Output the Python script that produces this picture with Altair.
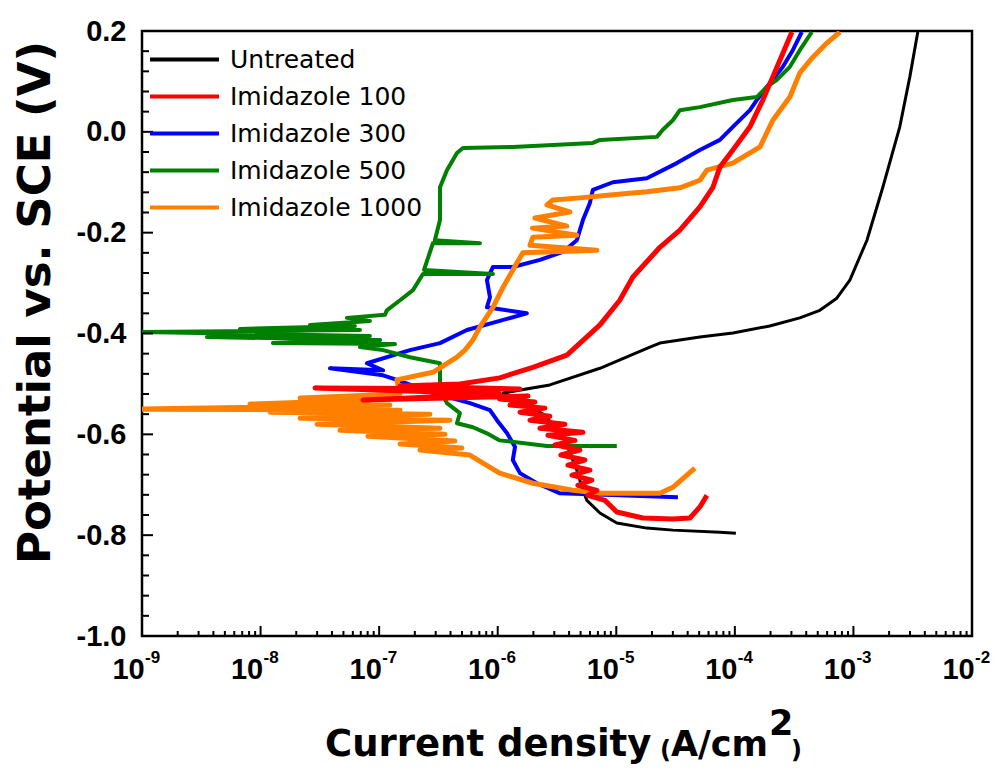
import altair as alt
import pandas as pd

SERIES = ["Untreated", "Imidazole 100", "Imidazole 300", "Imidazole 500", "Imidazole 1000"]
COLORS = ["#000000", "#ff0000", "#0000ff", "#008000", "#ff8000"]

# current density (A/cm2) and potential (V vs SCE), in sweep order
untreated_i = [1.02e-4, 7.48e-5, 3.0e-5, 1.81e-5, 1.01e-5, 7.28e-6, 5.65e-6, 5.23e-6, 4.65e-6, 3.69e-6,
               2.5e-6, 1.54e-6, 1.11e-6, 2.75e-6, 7.28e-6, 1.92e-5, 2.33e-5, 5.07e-5, 9.62e-5, 1.97e-4,
               3.53e-4, 5.21e-4, 7.24e-4, 9.33e-4, 1.30e-3, 1.77e-3, 2.46e-3, 2.99e-3, 3.49e-3]
untreated_e = [-0.796, -0.794, -0.790, -0.786, -0.776, -0.756, -0.731, -0.711, -0.671, -0.612,
               -0.562, -0.532, -0.518, -0.502, -0.469, -0.427, -0.419, -0.407, -0.399, -0.385,
               -0.369, -0.354, -0.330, -0.294, -0.215, -0.110, 0.010, 0.109, 0.198]

imid100_i = [5.81e-5, 5.07e-5, 4.18e-5, 3.0e-5, 1.68e-5, 1.01e-5, 8.02e-6, 5.75e-6, 6.86e-6, 4.74e-6,
             6.22e-6, 4.23e-6, 5.99e-6, 3.91e-6, 5.43e-6, 3.41e-6, 4.93e-6, 3.03e-6, 4.48e-6, 2.65e-6,
             5.23e-6, 2.27e-6, 3.69e-6, 1.87e-6, 2.75e-6, 1.54e-6, 2.5e-6, 1.27e-6, 2.06e-6, 1.04e-6,
             1.8e-6, 7.3e-8, 1.04e-6, 2.88e-8, 1.54e-6, 1.5e-7, 4.8e-7, 1.04e-6,
             1.98e-6, 3.83e-6, 7.28e-6, 1.07e-5, 1.38e-5, 2.33e-5, 3.44e-5, 5.07e-5, 6.53e-5, 7.48e-5,
             9.62e-5, 1.34e-4, 1.72e-4, 2.09e-4, 2.54e-4, 3.03e-4]
imid100_e = [-0.721, -0.744, -0.766, -0.768, -0.766, -0.754, -0.731, -0.721, -0.711, -0.701,
             -0.691, -0.681, -0.671, -0.661, -0.651, -0.641, -0.631, -0.621, -0.612, -0.602,
             -0.596, -0.588, -0.580, -0.572, -0.564, -0.556, -0.548, -0.542, -0.536, -0.530,
             -0.524, -0.532, -0.520, -0.508, -0.510, -0.504, -0.500, -0.488,
             -0.467, -0.443, -0.383, -0.334, -0.288, -0.229, -0.195, -0.149, -0.110, -0.070,
             -0.036, 0.010, 0.063, 0.109, 0.156, 0.198]

imid300_i = [3.31e-5, 3.35e-6, 2.14e-6, 1.54e-6, 1.34e-6, 1.40e-6, 1.2e-6, 9.85e-7, 8.6e-7, 5.83e-7,
             2.68e-7, 1.41e-7, 1.08e-7, 3.85e-8, 1.08e-7, 7.89e-8, 1.82e-7, 3.26e-7, 5.5e-7, 1.04e-6,
             1.76e-6, 8.11e-7, 8.6e-7, 8.11e-7, 9.12e-7, 1.34e-6, 2.27e-6, 3.55e-6, 4.65e-6, 5.23e-6,
             5.99e-6, 6.35e-6, 9.36e-6, 1.81e-5, 3.24e-5, 5.07e-5, 7.48e-5, 9.62e-5, 1.34e-4, 1.53e-4,
             1.86e-4, 2.54e-4, 3.08e-4, 3.67e-4]
imid300_e = [-0.725, -0.717, -0.697, -0.677, -0.651, -0.625, -0.598, -0.572, -0.552, -0.538,
             -0.516, -0.492, -0.483, -0.469, -0.473, -0.459, -0.433, -0.419, -0.393, -0.375,
             -0.360, -0.348, -0.328, -0.294, -0.268, -0.268, -0.254, -0.238, -0.215, -0.175,
             -0.141, -0.115, -0.100, -0.092, -0.062, -0.036, -0.016, 0.010, 0.043, 0.063,
             0.089, 0.129, 0.162, 0.198]

imid500_i = [1.01e-5, 2.6e-6, 1.04e-6, 8.11e-7, 6.18e-7, 4.53e-7, 4.8e-7, 3.73e-7, 3.26e-7, 3.26e-7,
             1.82e-7, 1.08e-7, 6.89e-8, 1.36e-7, 1.27e-8, 1.02e-7, 3.53e-9, 8.36e-8, 1.0e-9, 6.89e-8,
             6.7e-9, 6.25e-8, 2.61e-8, 8.36e-8, 5.35e-8, 1.12e-7, 1.16e-7, 1.5e-7, 1.93e-7, 2.34e-7,
             9.12e-7, 2.39e-7, 2.84e-7, 7.08e-7, 2.95e-7, 3.26e-7, 3.26e-7, 3.73e-7, 4.53e-7, 5.09e-7,
             1.34e-6, 6.35e-6, 7.28e-6, 2.2e-5, 2.47e-5, 3.0e-5, 3.44e-5, 5.07e-5, 9.62e-5, 1.53e-4,
             1.86e-4, 2.26e-4, 2.91e-4, 3.53e-4, 4.46e-4]
imid500_e = [-0.623, -0.623, -0.612, -0.598, -0.586, -0.578, -0.558, -0.538, -0.512, -0.459,
             -0.447, -0.433, -0.427, -0.421, -0.419, -0.413, -0.407, -0.405, -0.397, -0.393,
             -0.391, -0.385, -0.383, -0.375, -0.369, -0.363, -0.354, -0.334, -0.314, -0.282,
             -0.282, -0.274, -0.221, -0.221, -0.215, -0.175, -0.110, -0.076, -0.042, -0.032,
             -0.030, -0.022, -0.016, -0.010, 0.004, 0.023, 0.043, 0.049, 0.063, 0.069,
             0.089, 0.103, 0.129, 0.162, 0.198]

imid1000_i = [4.6e-5, 3.0e-5, 2.33e-5, 7.28e-6, 4.31e-6, 1.98e-6, 1.04e-6, 7.5e-7, 5.83e-7, 2.21e-7,
              4.99e-7, 1.5e-7, 4.36e-7, 8.05e-8, 3.59e-7, 4.67e-8, 3.26e-7, 2.99e-8, 3.95e-7, 2.15e-8,
              2.68e-7, 1.2e-8, 1.5e-7, 1.0e-9, 1.23e-7, 8.14e-9, 8.36e-8, 2.15e-8, 1.5e-7,
              1.41e-7, 2.84e-7, 4.53e-7, 5.29e-7, 6.18e-7, 7.08e-7, 9.12e-7, 1.11e-6, 1.45e-6, 1.63e-6,
              6.86e-6, 1.87e-6, 1.98e-6, 4.65e-6, 1.96e-6, 3.83e-6, 2.06e-6, 4.06e-6, 2.6e-6, 2.92e-6,
              4.93e-6, 9.36e-6, 1.81e-5, 3.44e-5, 5.07e-5, 5.81e-5, 9.62e-5, 1.63e-4, 2.09e-4, 2.91e-4,
              3.53e-4, 4.55e-4, 5.97e-4, 7.68e-4]
imid1000_e = [-0.667, -0.705, -0.717, -0.717, -0.711, -0.697, -0.677, -0.657, -0.641, -0.631,
              -0.627, -0.619, -0.613, -0.604, -0.600, -0.592, -0.588, -0.580, -0.572, -0.568,
              -0.560, -0.556, -0.552, -0.550, -0.542, -0.540, -0.532, -0.528, -0.520,
              -0.492, -0.477, -0.447, -0.433, -0.413, -0.387, -0.348, -0.308, -0.260, -0.240,
              -0.235, -0.225, -0.209, -0.205, -0.191, -0.187, -0.171, -0.159, -0.145, -0.135,
              -0.131, -0.125, -0.119, -0.111, -0.096, -0.076, -0.062, -0.030, 0.023, 0.069,
              0.117, 0.148, 0.176, 0.198]

# axis ticks / labels
X_DECADES = [1e-9, 1e-8, 1e-7, 1e-6, 1e-5, 1e-4, 1e-3, 1e-2]
X_EXPONENTS = ["-9", "-8", "-7", "-6", "-5", "-4", "-3", "-2"]
X_MINOR = [m * d for d in X_DECADES[:-1] for m in range(2, 10)]
Y_LABELS = [-1.0, -0.8, -0.6, -0.4, -0.2, 0.0, 0.2]
Y_MINOR = [-0.96, -0.92, -0.88, -0.84, -0.76, -0.72, -0.68, -0.64, -0.56, -0.52, -0.48, -0.44,
           -0.36, -0.32, -0.28, -0.24, -0.16, -0.12, -0.08, -0.04, 0.04, 0.08, 0.12, 0.16]

W, H = 830, 605


def frame(name, cur, pot):
    return pd.DataFrame({"series": name, "i": cur, "E": pot, "k": list(range(len(cur)))})


xscale = alt.Scale(type="log", domain=[1e-9, 1e-2], nice=False)
yscale = alt.Scale(domain=[-1.0, 0.2], nice=False, zero=False)
legend = alt.Legend(title=None, orient="none", legendX=6, legendY=10, symbolType="stroke",
                    symbolSize=4761, symbolStrokeWidth=4, labelFont="DejaVu Sans", labelFontSize=25,
                    labelColor="black", labelOffset=9, clipHeight=37, rowPadding=0, padding=0,
                    labelLimit=400)
color = alt.Color("series:N", scale=alt.Scale(domain=SERIES, range=COLORS), legend=legend)

x_label_axis = alt.Axis(orient="bottom", values=X_DECADES, labelExpr="'10'", ticks=False, domain=False,
                        grid=False, labelFont="Liberation Sans", labelFontWeight="bold",
                        labelFontSize=29, labelColor="black", labelPadding=19, labelOffset=-14,
                        labelFlush=False, labelOverlap=False, labelBaseline="top", title=None)
y_label_axis = alt.Axis(orient="left", values=Y_LABELS,
                        labelExpr="replace(format(datum.value, '.1f'), '\u2212', '-')",
                        ticks=False, domain=False, grid=False, labelFont="Liberation Sans",
                        labelFontWeight="bold", labelFontSize=29, labelColor="black", labelPadding=16,
                        labelOverlap=False, labelFlush=False,
                        title="Potential vs. SCE (V)", titleFont="DejaVu Sans", titleFontSize=45,
                        titleFontWeight="bold", titleColor="black", titleX=-93, titleY=271,
                        titleAngle=270, titleAlign="center", titleBaseline="alphabetic")


def line(df, width, first=False):
    return alt.Chart(df).mark_line(clip=True, strokeWidth=width, strokeJoin="round").encode(
        x=alt.X("i:Q", scale=xscale, axis=x_label_axis if first else None),
        y=alt.Y("E:Q", scale=yscale, axis=y_label_axis if first else None),
        color=color,
        order=alt.Order("k:Q"),
    )


layers = [
    line(frame(SERIES[0], untreated_i, untreated_e), 3, first=True),
    line(frame(SERIES[2], imid300_i, imid300_e), 4),
    line(frame(SERIES[3], imid500_i, imid500_e), 4),
    line(frame(SERIES[4], imid1000_i, imid1000_e), 5),
    line(frame(SERIES[1], imid100_i, imid100_e), 5),
]


# inward ticks drawn through the shared scales
def xticks(values, length):
    return alt.Chart(pd.DataFrame({"v": values})).mark_rule(color="black", strokeWidth=2).encode(
        x=alt.X("v:Q", scale=xscale, axis=None), y=alt.value(H - length), y2=alt.value(H))


def yticks(values, length):
    return alt.Chart(pd.DataFrame({"v": values})).mark_rule(color="black", strokeWidth=2).encode(
        y=alt.Y("v:Q", scale=yscale, axis=None), x=alt.value(0), x2=alt.value(length))


layers += [xticks(X_DECADES, 10), xticks(X_MINOR, 5), yticks(Y_LABELS, 11), yticks(Y_MINOR, 7)]

exp_df = pd.DataFrame({"x": X_DECADES, "t": X_EXPONENTS})
exps = alt.Chart(exp_df).mark_text(align="left", baseline="alphabetic", dx=3, font="Liberation Sans",
                                   fontWeight="bold", fontSize=17, color="black").encode(
    x=alt.X("x:Q", scale=xscale, axis=None), y=alt.value(H + 27), text="t:N")
layers.append(exps)

title_parts = [
    ("Current density", 183, 725, 37),
    ("(", 518, 727, 24),
    ("A/cm", 529, 725, 35),
    ("2", 627, 704, 35),
    (")", 649, 727, 24),
]
for txt, px, py, fs in title_parts:
    layers.append(
        alt.Chart(pd.DataFrame({"t": [txt]})).mark_text(
            align="left", baseline="alphabetic", font="DejaVu Sans", fontWeight="bold", fontSize=fs,
            color="black").encode(x=alt.value(px), y=alt.value(py), text="t:N")
    )

chart = alt.layer(*layers).properties(
    width=W, height=H,
    padding={"left": 134, "top": 23, "right": 18, "bottom": 129},
    autosize=alt.AutoSizeParams(type="none"),
    background="white",
).resolve_axis(x="independent", y="independent").configure_view(
    stroke="black", strokeWidth=2.5
)

chart.save("out.html", embed_options={"renderer": "svg", "actions": False})
